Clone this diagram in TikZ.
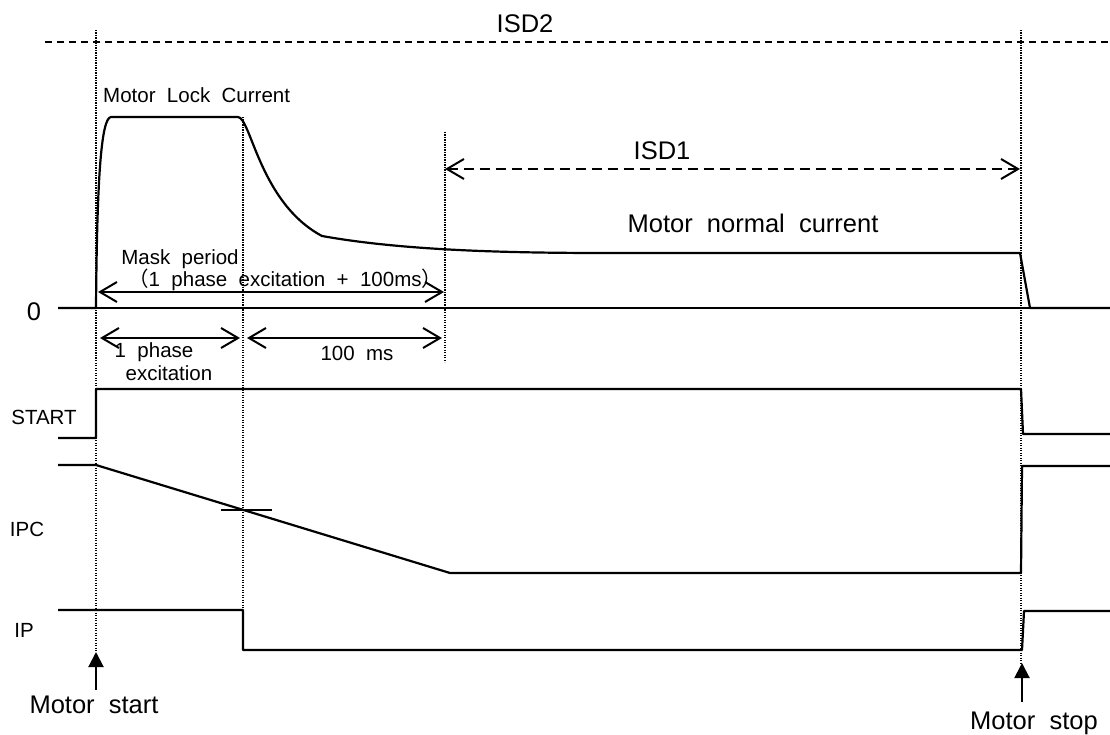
\documentclass[tikz,border=0pt]{standalone}
\usepackage{fontspec}
\setmainfont{Liberation Sans}[WordSpace=2]
\newfontfamily\cjk{Noto Sans CJK JP}
\usepackage{tikz}
\usetikzlibrary{positioning, calc, arrows.meta}

\begin{document}
\begin{tikzpicture}[x=1pt, y=-1pt,
    wave/.style={line width=2.2pt, line join=round},
    guide/.style={line width=1.5pt, dash pattern=on 1.4pt off 1.1pt},
    dim/.style={line width=2pt, {Straight Barb[length=17pt,width=20pt]}-{Straight Barb[length=17pt,width=20pt]}},
    event/.style={line width=2pt, -{Triangle[length=15pt,width=15pt]}},
    small/.style={font=\fontsize{20.5}{22}\selectfont, inner sep=0pt},
    big/.style={font=\fontsize{25.5}{27}\selectfont, inner sep=0pt}]
    \useasboundingbox (0,0) rectangle (1110,735);
    % Time marks (dotted)
    \draw[guide] (96,30) -- (96,652);
    \draw[guide] (243,117) -- (243,610);
    \draw[guide] (445,132) -- (445,362);
    \draw[guide] (1021,30) -- (1021,663);
    % ISD2 level
    \draw[line width=1.6pt, dash pattern=on 7pt off 5pt] (45,42) -- (1110,42);
    \node[big] (isd2) at (525,24) {ISD2};
    % ISD1 span
    \coordinate (isdA) at (445,169);
    \coordinate (isdB) at (1020,169);
    \draw[dim, dash pattern=on 10pt off 6pt] (isdA) -- (isdB);
    \node[big] (isd1) at (662,151) {ISD1};
    % Zero line and motor current
    \draw[line width=1.1pt] (58,308) -- (1110,308);
    \node[big] (zero) at (34,312) {0};
    \draw[wave] (58,308) -- (96,308) .. controls (97,180) and (101,118) .. (111,117)
        -- (238,117) .. controls (251,118) and (260,203) .. (322,236)
        .. controls (400,250) and (500,253) .. (605,253)
        -- (1020,253) -- (1030,308) -- (1110,308);
    \node[small, anchor=west] (lock) at (103,95) {Motor Lock Current};
    \node[big] (normal) at (753,223) {Motor normal current};
    % Mask period
    \coordinate (maskA) at (98,292);
    \coordinate (maskB) at (444,292);
    \draw[dim] (maskA) -- (maskB);
    \node[small] (mask) at (180,259) {Mask period};
    \node[small, anchor=west] (maskdef) at (128,280) {{\cjk （}1 phase excitation + 100ms{\cjk ）}};
    % 1 phase excitation / 100 ms
    \coordinate (phA) at (100,338);
    \coordinate (phB) at (240,338);
    \coordinate (msA) at (247,338);
    \coordinate (msB) at (442,338);
    \draw[dim] (phA) -- (phB);
    \draw[dim] (msA) -- (msB);
    \node[small] (phase) at (154,352) {1 phase};
    \node[small] (excit) at (169,373) {excitation};
    \node[small] (ms) at (357,353) {100 ms};
    % START
    \draw[wave] (58,438) -- (96,438) -- (96,389) -- (1021,389) -- (1023,434) -- (1110,434);
    \node[small] (start) at (44,417) {START};
    % IPC
    \draw[wave] (58,465) -- (96,465) -- (450,573) -- (1021,573) -- (1022,466) -- (1110,466);
    \draw[wave] (221,510) -- (272,510);
    \node[small] (ipc) at (27,529) {IPC};
    % IP
    \draw[wave] (58,610) -- (243,610) -- (243,650) -- (1022,650) -- (1024,611) -- (1110,611);
    \node[small] (ip) at (24,630) {IP};
    % Motor start / stop
    \coordinate (goA) at (96,690);
    \coordinate (goB) at (96,652);
    \draw[event] (goA) -- (goB);
    \node[big] (mstart) at (94,705) {Motor start};
    \coordinate (stopA) at (1022,702);
    \coordinate (stopB) at (1022,663);
    \draw[event] (stopA) -- (stopB);
    \node[big] (mstop) at (1034,723) {Motor stop};
\end{tikzpicture}
\end{document}
